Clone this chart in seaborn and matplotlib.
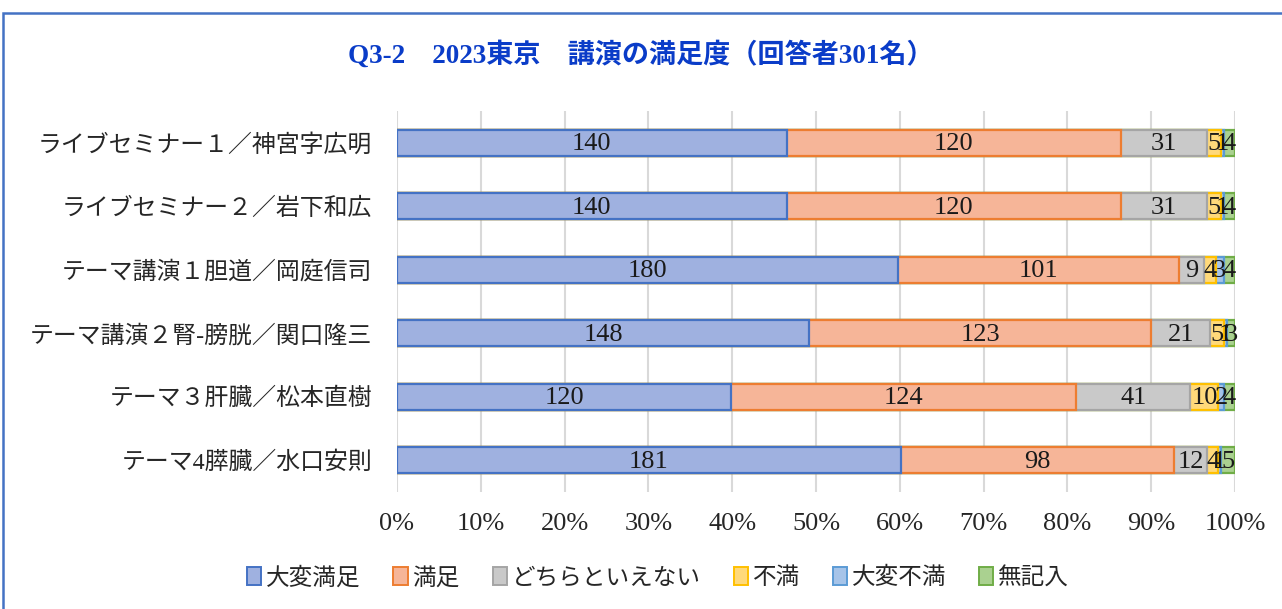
import numpy as np
import pandas as pd
import matplotlib
matplotlib.use("Agg")
import matplotlib.pyplot as plt
from matplotlib.patches import Rectangle, Patch
import seaborn as sns

# Lectures (rows) and response counts per answer category
lectures = [
    "ライブセミナー１／神宮字広明",
    "ライブセミナー２／岩下和広",
    "テーマ講演１胆道／岡庭信司",
    "テーマ講演２腎-膀胱／関口隆三",
    "テーマ３肝臓／松本直樹",
    "テーマ4膵臓／水口安則",
]
categories = ["大変満足", "満足", "どちらといえない", "不満", "大変不満", "無記入"]

very_satisfied = [140, 140, 180, 148, 120, 181]
satisfied = [120, 120, 101, 123, 124, 98]
neutral = [31, 31, 9, 21, 41, 12]
dissatisfied = [5, 5, 4, 5, 10, 4]
very_dissatisfied = [1, 1, 3, 1, 2, 1]
no_answer = [4, 4, 4, 3, 4, 5]

xtick_labels = ["0%", "10%", "20%", "30%", "40%", "50%", "60%", "70%", "80%", "90%", "100%"]
title_text = "Q3-2　2023東京　講演の満足度（回答者301名）"

fills = ["#9FB1E0", "#F6B598", "#C9C9C9", "#FFD97A", "#A6C4E9", "#AAD190"]
edges = ["#4472C4", "#ED7D31", "#A5A5A5", "#FFC000", "#5B9BD5", "#70AD47"]

series = [very_satisfied, satisfied, neutral, dissatisfied, very_dissatisfied, no_answer]
counts = np.array(series, dtype=float)            # shape (categories, lectures)
totals = counts.sum(axis=0)
shares = counts / totals * 100.0
cum = np.cumsum(shares, axis=0)

sns.set_theme(style="white")
plt.rcParams["font.family"] = ["Liberation Serif", "Noto Sans CJK JP"]

fig = plt.figure(figsize=(12.82, 6.09), dpi=100)
ax = fig.add_axes([397 / 1282, 1 - 492 / 609, (1235 - 397) / 1282, (492 - 111) / 609])

# Stacked bars: draw cumulative totals from the last category backwards
for k in range(len(categories) - 1, -1, -1):
    df = pd.DataFrame({"lecture": lectures, "value": cum[k]})
    sns.barplot(data=df, x="value", y="lecture", orient="h", ax=ax,
                color=fills[k], edgecolor=edges[k], linewidth=1.6,
                width=0.41, saturation=1, zorder=3)

# Segment value labels
for k in range(len(categories)):
    for i in range(len(lectures)):
        left = cum[k, i] - shares[k, i]
        ax.text(left + shares[k, i] / 2, i + 0.02, f"{int(counts[k, i])}",
                ha="center", va="center", fontsize=19, color="#1a1a1a", zorder=5)

ax.set_xlim(0, 100)
ax.set_ylim(len(lectures) - 0.5, -0.5)
ax.set_xticks(np.arange(0, 101, 10))
ax.set_xticklabels(xtick_labels, fontsize=19, color="#262626")
ax.set_yticks(range(len(lectures)))
ax.set_yticklabels(lectures, fontsize=17.2, color="#262626")
ax.tick_params(axis="x", length=0, pad=15)
ax.tick_params(axis="y", length=0, pad=18)
ax.set_xlabel("")
ax.set_ylabel("")
ax.grid(axis="x", color="#D9D9D9", linewidth=1.5, zorder=0)
ax.grid(axis="y", visible=False)
for s in ax.spines.values():
    s.set_visible(False)

fig.text(0.5, 1 - 55 / 609, title_text, ha="center", va="center",
         fontsize=19.5, fontweight="bold", color="#0A3CC8")

handles = [Patch(facecolor=fills[k], edgecolor=edges[k], linewidth=1.4, label=categories[k])
           for k in range(len(categories))]
fig.legend(handles=handles, loc="center", bbox_to_anchor=(658 / 1282, 1 - 578 / 609),
           ncol=6, frameon=False, fontsize=17, handlelength=0.6, handleheight=0.8,
           handletextpad=0.2, columnspacing=1.4, labelcolor="#262626")

# Chart frame border
fig.patches.append(Rectangle((3 / 1282, -0.05), 1.1, 1 - 13 / 609 + 0.05,
                             transform=fig.transFigure, fill=False,
                             edgecolor="#4472C4", linewidth=1.8))

fig.savefig("out.png", dpi=100)
